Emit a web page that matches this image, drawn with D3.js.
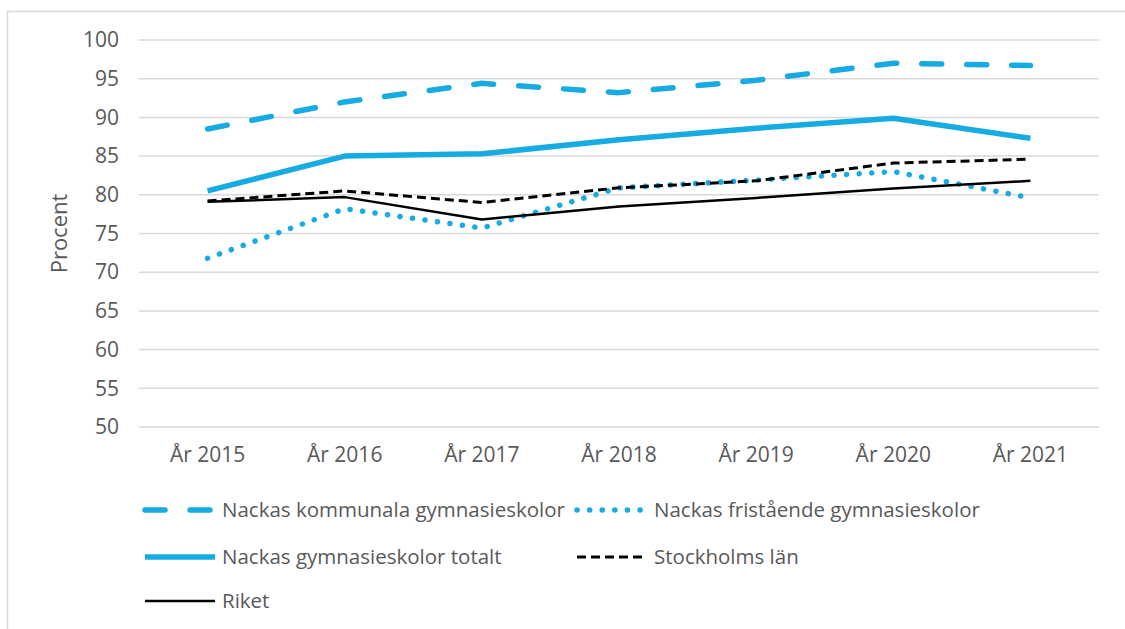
<!DOCTYPE html>
<html>
  <head>
    <meta charset="utf-8" />
    <title>Procent per år</title>
    <script src="https://d3js.org/d3.v7.min.js"></script>
    <style>
      body { margin: 0; background: #fff; }
      text { font-family: "Open Sans", sans-serif; fill: #595959; }
    </style>
  </head>
  <body>
    <svg width="1125" height="629"></svg>

    <script>
      // Data
      var years = ["År 2015", "År 2016", "År 2017", "År 2018", "År 2019", "År 2020", "År 2021"];
      var yTicks = [50, 55, 60, 65, 70, 75, 80, 85, 90, 95, 100];

      var kommunala = [88.5, 92.0, 94.4, 93.2, 94.8, 97.0, 96.7];
      var fristaende = [71.8, 78.2, 75.7, 80.9, 81.9, 83.0, 79.6];
      var totalt = [80.5, 85.0, 85.3, 87.1, 88.6, 89.9, 87.3];
      var stockholm = [79.2, 80.5, 79.0, 80.9, 81.8, 84.1, 84.6];
      var riket = [79.1, 79.7, 76.8, 78.5, 79.6, 80.8, 81.8];

      var series = [
        { name: "Nackas kommunala gymnasieskolor", values: kommunala, color: "#16abe3", width: 5.5, dash: "20,25", cap: "round" },
        { name: "Nackas fristående gymnasieskolor", values: fristaende, color: "#16abe3", width: 5.5, dash: "0.1,12.5", cap: "round" },
        { name: "Nackas gymnasieskolor totalt", values: totalt, color: "#16abe3", width: 5.5, dash: null, cap: "butt" },
        { name: "Stockholms län", values: stockholm, color: "#000000", width: 3, dash: "9,5", cap: "butt" },
        { name: "Riket", values: riket, color: "#000000", width: 2.5, dash: null, cap: "butt" }
      ];

      var svg = d3.select("svg");

      // outer frame
      svg.append("rect")
        .attr("x", 7.5).attr("y", 11.5)
        .attr("width", 1140).attr("height", 640)
        .attr("fill", "none")
        .attr("stroke", "#d9d9d9")
        .attr("stroke-width", 1.5);

      var margin = { top: 40, left: 139, right: 1099, bottom: 427 };

      var x = d3.scaleBand().domain(years).range([margin.left, margin.right]);
      var y = d3.scaleLinear().domain([50, 100]).range([margin.bottom, margin.top]);

      // gridlines
      svg.append("g").selectAll("line")
        .data(yTicks)
        .enter()
        .append("line")
        .attr("x1", margin.left).attr("x2", margin.right)
        .attr("y1", function (d) { return y(d); })
        .attr("y2", function (d) { return y(d); })
        .attr("stroke", "#d9d9d9")
        .attr("stroke-width", 1.5);

      // y axis
      var yAxis = svg.append("g")
        .attr("transform", "translate(" + (margin.left - 20) + ",0)")
        .call(d3.axisLeft(y).tickValues(yTicks).tickSize(0).tickPadding(0));
      yAxis.select(".domain").remove();
      yAxis.selectAll("text").style("font-size", "21px").attr("fill", "#595959");

      // x axis
      var xAxis = svg.append("g")
        .attr("transform", "translate(0," + (margin.bottom + 20) + ")")
        .call(d3.axisBottom(x).tickSize(0).tickPadding(0));
      xAxis.select(".domain").remove();
      xAxis.selectAll("text").style("font-size", "21px").attr("fill", "#595959");

      // y title
      svg.append("text")
        .attr("transform", "translate(67," + (y(75)) + ") rotate(-90)")
        .attr("text-anchor", "middle")
        .style("font-size", "22px")
        .text("Procent");

      // lines
      var line = d3.line()
        .x(function (d, i) { return x(years[i]) + x.bandwidth() / 2; })
        .y(function (d) { return y(d); });

      svg.append("g").selectAll("path")
        .data(series)
        .enter()
        .append("path")
        .attr("d", function (s) { return line(s.values); })
        .attr("fill", "none")
        .attr("stroke", function (s) { return s.color; })
        .attr("stroke-width", function (s) { return s.width; })
        .attr("stroke-dasharray", function (s) { return s.dash; })
        .attr("stroke-linecap", function (s) { return s.cap; })
        .attr("stroke-linejoin", "round");

      // legend
      var legendPos = [
        { x: 145, y: 510 },
        { x: 577, y: 510 },
        { x: 145, y: 557 },
        { x: 577, y: 557 },
        { x: 145, y: 601 }
      ];

      var legend = svg.append("g").selectAll("g")
        .data(series)
        .enter()
        .append("g")
        .attr("transform", function (s, i) { return "translate(" + legendPos[i].x + "," + legendPos[i].y + ")"; });

      legend.append("line")
        .attr("x1", 0).attr("x2", 70)
        .attr("y1", 0).attr("y2", 0)
        .attr("stroke", function (s) { return s.color; })
        .attr("stroke-width", function (s) { return s.width; })
        .attr("stroke-dasharray", function (s) { return s.dash; })
        .attr("stroke-linecap", function (s) { return s.cap; });

      legend.append("text")
        .attr("x", 77)
        .attr("dy", "0.35em")
        .style("font-size", "20.5px")
        .text(function (s) { return s.name; });
    </script>
  </body>
</html>
